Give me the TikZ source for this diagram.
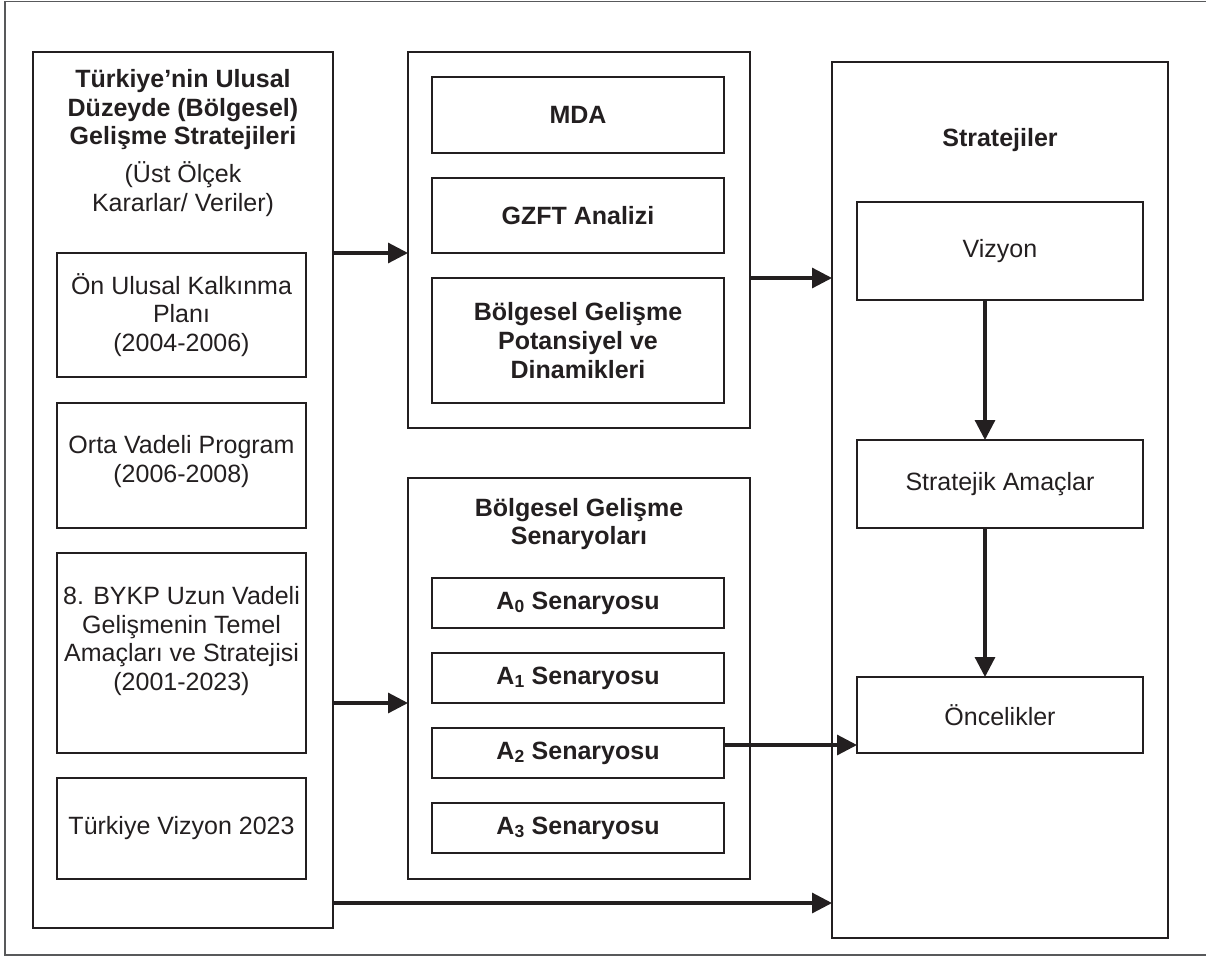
\documentclass[tikz,border=0pt]{standalone}
\usepackage{fontspec}
\setmainfont{Liberation Sans}
\usetikzlibrary{arrows.meta}
\definecolor{linec}{HTML}{231F20}
\definecolor{framec}{HTML}{58595B}
\begin{document}
\begin{tikzpicture}[x=1pt,y=-1pt,
  every node/.style={inner sep=0pt, outer sep=0pt, text=linec},
  box/.style={draw=linec, line width=1.8pt, anchor=north west, align=center,
              font=\fontsize{25}{29}\selectfont},
  bbox/.style={box, font=\fontsize{25}{29}\selectfont\bfseries},
  ttl/.style={align=center, font=\fontsize{25}{28.5}\selectfont\bfseries},
  sub/.style={align=center, font=\fontsize{25}{28.5}\selectfont},
  arr/.style={draw=linec, line width=3.2pt, -{Triangle[length=20pt,width=20pt]}}]
\useasboundingbox (0,0) rectangle (1206,956);
\draw[framec, line width=1.4pt] (1210,1.5) -- (5,1.5) -- (5,955) -- (1210,955);

% left column
\node[box, minimum width=300, minimum height=876] (L) at (33,52) {};
\node[ttl] (Lt) at (183,110) {Türkiye’nin Ulusal\\Düzeyde (Bölgesel)\\Gelişme Stratejileri};
\node[sub] (Ls) at (183,189) {(Üst Ölçek\\Kararlar/ Veriler)};
\node[box, minimum width=249, minimum height=124] (L1) at (57,253) {};
\node[sub] (L1t) at (L1.center) {Ön Ulusal Kalkınma\\Planı\\(2004-2006)};
\node[box, minimum width=249, minimum height=125] (L2) at (57,403) {};
\node[sub] (L2t) at (L2.center) [yshift=4pt] {Orta Vadeli Program\\(2006-2008)};
\node[box, minimum width=249, minimum height=200] (L3) at (57,553) {};
\node[sub] (L3t) at (L3.center) [yshift=12pt] {8. BYKP Uzun Vadeli\\Gelişmenin Temel\\Amaçları ve Stratejisi\\(2001-2023)};
\node[box, minimum width=249, minimum height=101] (L4) at (57,778) {Türkiye Vizyon 2023};

% middle top
\node[box, minimum width=342, minimum height=376] (M1) at (408,52) {};
\node[bbox, minimum width=292, minimum height=76] (MDA) at (432,77) {MDA};
\node[bbox, minimum width=292, minimum height=75] (GZ) at (432,178) {GZFT Analizi};
\node[bbox, minimum width=292, minimum height=125] (BG) at (432,278) {Bölgesel Gelişme\\Potansiyel ve\\Dinamikleri};

% middle bottom
\node[box, minimum width=342, minimum height=401] (M2) at (408,478) {};
\node[ttl] (M2t) at (579,524) {Bölgesel Gelişme\\Senaryoları};
\node[bbox, minimum width=292, minimum height=50] (A0) at (432,578) {A\textsubscript{0} Senaryosu};
\node[bbox, minimum width=292, minimum height=50] (A1) at (432,653) {A\textsubscript{1} Senaryosu};
\node[bbox, minimum width=292, minimum height=50] (A2) at (432,728) {A\textsubscript{2} Senaryosu};
\node[bbox, minimum width=292, minimum height=50] (A3) at (432,803) {A\textsubscript{3} Senaryosu};

% right
\node[box, minimum width=336, minimum height=876] (R) at (832,62) {};
\node[ttl] (Rt) at (1000,140) {Stratejiler};
\node[box, minimum width=286, minimum height=98] (V) at (857,202) {Vizyon};
\node[box, minimum width=286, minimum height=88] (S) at (857,440) {Stratejik Amaçlar};
\node[box, minimum width=286, minimum height=76] (O) at (857,677) {Öncelikler};

% arrows
\coordinate (y1) at (0,253);
\coordinate (y2) at (0,703);
\coordinate (y3) at (0,278);
\coordinate (y4) at (0,745);
\coordinate (y5) at (0,903);
\coordinate (xv) at (985,0);
\draw[arr] (L.east |- y1) -- (M1.west |- y1);
\draw[arr] (L.east |- y2) -- (M2.west |- y2);
\draw[arr] (M1.east |- y3) -- (R.west |- y3);
\draw[arr] (A2.east |- y4) -- (O.west |- y4);
\draw[arr] (L.east |- y5) -- (R.west |- y5);
\draw[arr] (V.south -| xv) -- (S.north -| xv);
\draw[arr] (S.south -| xv) -- (O.north -| xv);
\end{tikzpicture}
\end{document}
